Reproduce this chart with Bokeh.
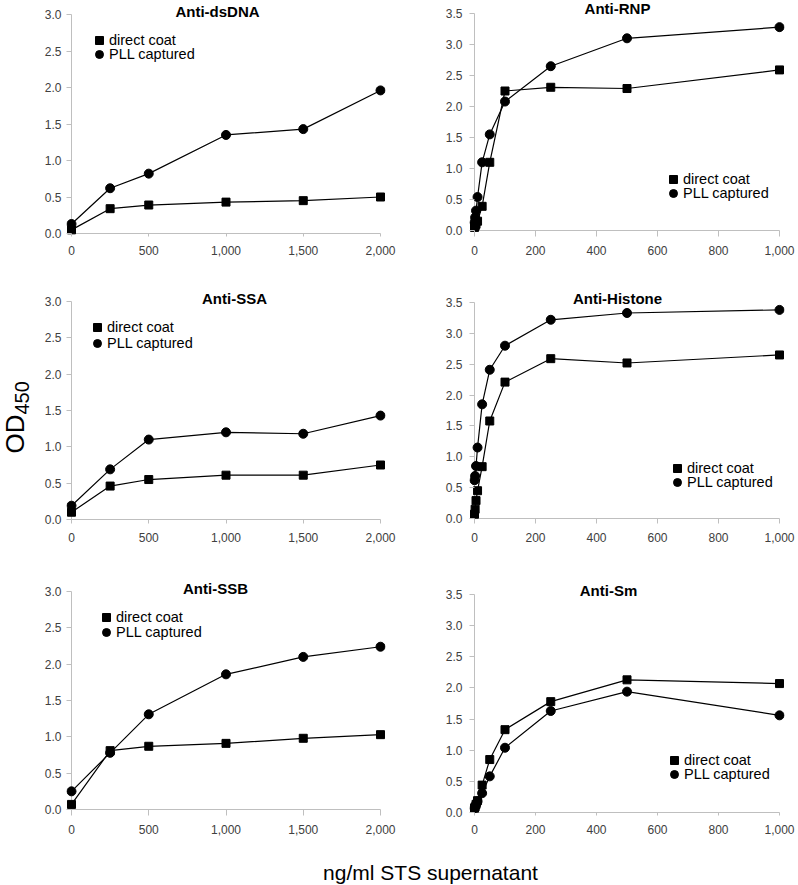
import math
from bokeh.plotting import figure
from bokeh.models import (Range1d, FixedTicker, NumeralTickFormatter, Label, Legend,
                          LegendItem, Whisker, ColumnDataSource)
from bokeh.layouts import column, row
from bokeh.embed import file_html
from bokeh.resources import INLINE

# ---------------- data ----------------
x_left = [0, 250, 500, 1000, 1500, 2000]
x_right = [0, 2, 5, 10, 25, 50, 100, 250, 500, 1000]

dsdna_direct = [0.05, 0.34, 0.39, 0.43, 0.45, 0.50]
dsdna_pll = [0.13, 0.62, 0.82, 1.35, 1.43, 1.96]
ssa_direct = [0.10, 0.46, 0.55, 0.61, 0.61, 0.75]
ssa_pll = [0.19, 0.69, 1.10, 1.20, 1.18, 1.43]
ssb_direct = [0.07, 0.81, 0.87, 0.91, 0.98, 1.03]
ssb_pll = [0.25, 0.78, 1.31, 1.86, 2.10, 2.24]

rnp_direct = [0.05, 0.07, 0.10, 0.15, 0.39, 1.10, 2.25, 2.31, 2.29, 2.59]
rnp_pll = [0.13, 0.21, 0.32, 0.54, 1.10, 1.55, 2.08, 2.65, 3.10, 3.28]
histone_direct = [0.07, 0.15, 0.29, 0.45, 0.84, 1.58, 2.21, 2.59, 2.52, 2.65]
histone_pll = [0.62, 0.69, 0.85, 1.15, 1.85, 2.41, 2.80, 3.22, 3.33, 3.38]
sm_direct = [0.07, 0.09, 0.13, 0.19, 0.44, 0.85, 1.33, 1.78, 2.13, 2.07]
sm_pll = [0.07, 0.09, 0.12, 0.18, 0.31, 0.58, 1.04, 1.63, 1.94, 1.56]

xticks_left = [0, 500, 1000, 1500, 2000]
xticks_right = [0, 200, 400, 600, 800, 1000]
yticks_left = [0.0, 0.5, 1.0, 1.5, 2.0, 2.5, 3.0]
yticks_right = [0.0, 0.5, 1.0, 1.5, 2.0, 2.5, 3.0, 3.5]

series_names = ["direct coat", "PLL captured"]
x_title = "ng/ml STS supernatant"

FONT = "Liberation Sans"
PAD = 5
AXIS_COLOR = "#bfbfbf"

# page layout (px)
YL_W = 36
LX, LW = 36, 368
RX, RW = 404, 394
R1T, R1H = 0, 278
R2T, R2H = 278, 287
R3T, R3H = 565, 292
GRID_H = R1H + R2H + R3H
XL_H = 885 - GRID_H
# shared frame top / bottom per row (page px)
F1 = (0, 236)
F2 = (289, 523)
F3 = (579, 815)


def panel(title, xs, yd, yp, xmax, ymax, xticks, yticks,
          fig_left, fig_top, fig_w, fig_h, ax, xend, ytop, ay, frame_tb,
          title_c, title_m, leg_x, leg_y, ystand):
    ftop, fbot = frame_tb
    pad_y = fbot - ay
    sx = (xend - ax) / xmax
    sy = (ay - ytop) / ymax
    frame_left = ax - PAD
    frame_right = xend + PAD
    p = figure(width=fig_w, height=fig_h, output_backend="svg", toolbar_location=None,
               x_range=Range1d(-PAD / sx, xmax + PAD / sx),
               y_range=Range1d(-pad_y / sy, ymax + (ytop - ftop) / sy),
               min_border_left=frame_left - fig_left,
               min_border_right=fig_left + fig_w - frame_right,
               min_border_top=ftop - fig_top,
               min_border_bottom=fig_top + fig_h - fbot)
    p.grid.visible = False
    p.outline_line_color = None
    for a in (p.xaxis[0], p.yaxis[0]):
        a.axis_label = None
        a.axis_line_color = None
        a.major_tick_line_color = AXIS_COLOR
        a.minor_tick_line_color = None
        a.major_tick_out = 0
        a.major_label_text_font = FONT
        a.major_label_text_font_size = "12px"
        a.major_label_text_color = "#404040"
    p.xaxis[0].major_tick_in = pad_y
    p.yaxis[0].major_tick_in = PAD
    p.xaxis[0].ticker = FixedTicker(ticks=xticks)
    p.xaxis[0].formatter = NumeralTickFormatter(format="0,0")
    p.xaxis[0].major_label_standoff = 9
    p.yaxis[0].ticker = FixedTicker(ticks=yticks)
    p.yaxis[0].formatter = NumeralTickFormatter(format="0.0")
    p.yaxis[0].major_label_standoff = ystand

    # axis lines at x=0 and y=0, spanning the axis extent
    p.add_layout(Whisker(source=ColumnDataSource(dict(b=[0], lo=[0], up=[ymax])),
                         base="b", lower="lo", upper="up", dimension="height",
                         line_color=AXIS_COLOR, line_width=1,
                         lower_head=None, upper_head=None))
    p.add_layout(Whisker(source=ColumnDataSource(dict(b=[0], lo=[0], up=[xmax])),
                         base="b", lower="lo", upper="up", dimension="width",
                         line_color=AXIS_COLOR, line_width=1,
                         lower_head=None, upper_head=None))

    p.line(xs, yd, line_color="black", line_width=1.2)
    p.line(xs, yp, line_color="black", line_width=1.2)
    s1 = p.scatter(xs, yd, marker="square", size=8, color="black")
    s2 = p.scatter(xs, yp, marker="circle", size=9, color="black")

    tx, ty = (title_c - ax) / sx, (ay - title_m) / sy
    p.add_layout(Label(x=tx, y=ty, text=title, text_font=FONT, text_font_style="bold",
                       text_font_size="15px", text_align="center",
                       text_baseline="middle", text_color="black"))

    for i, (name, rend) in enumerate(zip(series_names, [s1, s2])):
        cy = leg_y[i]
        legend = Legend(items=[LegendItem(label=name, renderers=[rend])],
                        location=(leg_x - 10 - frame_left, fbot - (cy + 10)),
                        glyph_width=20, glyph_height=20, label_height=20,
                        spacing=0, padding=0, margin=0, label_standoff=0,
                        border_line_color=None, background_fill_alpha=0,
                        label_text_font=FONT, label_text_font_size="14.5px",
                        label_text_color="black")
        p.add_layout(legend)
    return p


p1 = panel("Anti-dsDNA", x_left, dsdna_direct, dsdna_pll, 2000, 3.0, xticks_left, yticks_left,
           LX, R1T, LW, R1H, 71, 380, 14, 233, F1, 217, 10.6, 99, (40, 54), 5)
p2 = panel("Anti-RNP", x_right, rnp_direct, rnp_pll, 1000, 3.5, xticks_right, yticks_right,
           RX, R1T, RW, R1H, 474, 779, 13, 230, F1, 617, 7.8, 673, (179, 193), 7)
p3 = panel("Anti-SSA", x_left, ssa_direct, ssa_pll, 2000, 3.0, xticks_left, yticks_left,
           LX, R2T, LW, R2H, 71, 380, 301, 519, F2, 234, 297.6, 97, (327, 343), 5)
p4 = panel("Anti-Histone", x_right, histone_direct, histone_pll, 1000, 3.5, xticks_right, yticks_right,
           RX, R2T, RW, R2H, 474, 779, 302, 518, F2, 617, 297.6, 677, (468, 482), 7)
p5 = panel("Anti-SSB", x_left, ssb_direct, ssb_pll, 2000, 3.0, xticks_left, yticks_left,
           LX, R3T, LW, R3H, 71, 380, 591, 809, F3, 215, 587.6, 106, (617, 632), 5)
p6 = panel("Anti-Sm", x_right, sm_direct, sm_pll, 1000, 3.5, xticks_right, yticks_right,
           RX, R3T, RW, R3H, 474, 779, 594, 812, F3, 608, 589.6, 674, (760, 774), 7)


def blank(w, h):
    f = figure(width=w, height=h, output_backend="svg", toolbar_location=None,
               x_range=Range1d(0, w), y_range=Range1d(0, h),
               x_axis_type=None, y_axis_type=None, min_border=0)
    f.outline_line_color = None
    f.grid.visible = False
    return f


# y axis title: OD with subscript 450
yl = blank(YL_W, GRID_H)
yl.add_layout(Label(x=14.5, y=GRID_H - 453, text="OD", angle=math.pi / 2, text_font=FONT,
                    text_font_size="26px", text_align="left", text_baseline="middle",
                    text_color="black"))
yl.add_layout(Label(x=21.5, y=GRID_H - 414, text="450", angle=math.pi / 2, text_font=FONT,
                    text_font_size="20px", text_align="left", text_baseline="middle",
                    text_color="black"))

# x axis title
xl = blank(YL_W + LW + RW, XL_H)
xl.add_layout(Label(x=430, y=885 - 871.5, text=x_title, text_font=FONT, text_font_size="21px",
                    text_align="center", text_baseline="middle", text_color="black"))

grid = column(row(p1, p2), row(p3, p4), row(p5, p6))
layout = column(row(yl, grid), xl)

open("out.html", "w").write(file_html(layout, INLINE))
